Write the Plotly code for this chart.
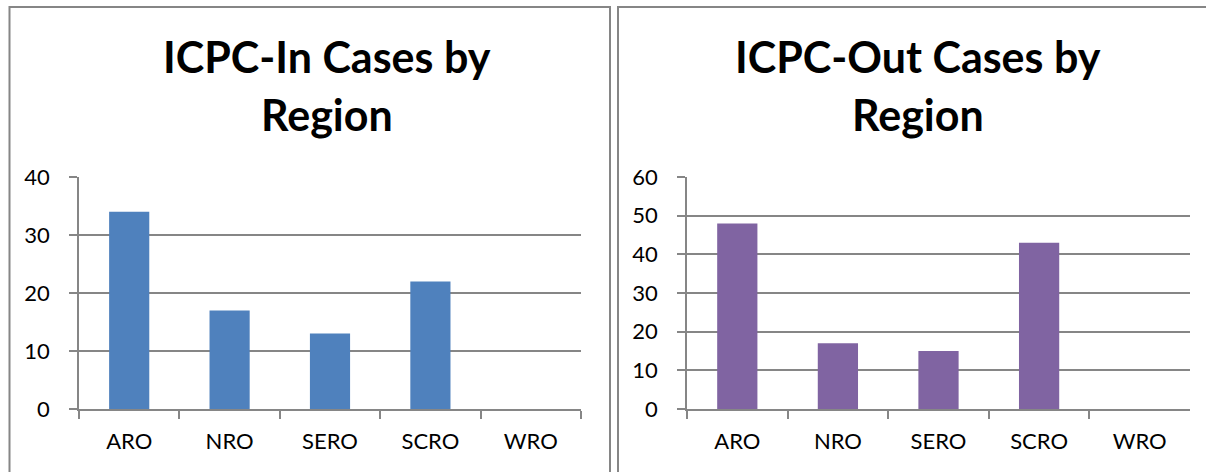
import plotly.graph_objects as go

W, H = 1206, 472

regions = ["ARO", "NRO", "SERO", "SCRO", "WRO"]
icpc_in = [34, 17, 13, 22, 0]
icpc_out = [48, 17, 15, 43, 0]
in_ticks = [0, 10, 20, 30, 40]
out_ticks = [0, 10, 20, 30, 40, 50, 60]
title_in = ["ICPC-In Cases by", "Region"]
title_out = ["ICPC-Out Cases by", "Region"]

BLUE = "#4F81BD"
PURPLE = "#8064A2"
GRID = "#868686"
FONT = "Lato"

def px(x):
    return x / W

def py(y):
    return (H - y) / H

fig = go.Figure()
fig.add_trace(go.Bar(x=regions, y=icpc_in, marker=dict(color=BLUE, line=dict(width=0)),
                     xaxis="x", yaxis="y", showlegend=False))
fig.add_trace(go.Bar(x=regions, y=icpc_out, marker=dict(color=PURPLE, line=dict(width=0)),
                     xaxis="x2", yaxis="y2", showlegend=False))

y0p, y1p = py(409), py(177)

xcommon = dict(type="category", showgrid=False, showline=True, linecolor=GRID, linewidth=1.7,
               ticks="outside", tickson="boundaries", ticklen=8, tickcolor=GRID, tickwidth=1.7,
               tickfont=dict(family=FONT, size=22, color="black"), ticklabelstandoff=12,
               automargin=False, fixedrange=True)
ycommon = dict(showgrid=True, gridcolor=GRID, gridwidth=1.7, showline=True, linecolor=GRID,
               linewidth=1.7, zeroline=False, ticks="outside", ticklen=8, tickcolor=GRID,
               tickwidth=1.7, tickfont=dict(family=FONT, size=22, color="black"),
               ticklabelstandoff=15, automargin=False, fixedrange=True)

fig.update_layout(
    template="none",
    width=W, height=H, margin=dict(l=0, r=0, t=0, b=0, pad=0),
    paper_bgcolor="white", plot_bgcolor="white", bargap=0.6,
    xaxis=dict(domain=[px(79), px(581)], anchor="y", **xcommon),
    yaxis=dict(domain=[y0p, y1p], anchor="x", range=[0, 40], tickvals=in_ticks, **ycommon),
    xaxis2=dict(domain=[px(687), px(1190)], anchor="y2", **xcommon),
    yaxis2=dict(domain=[y0p, y1p], anchor="x2", range=[0, 60], tickvals=out_ticks, **ycommon),
)

# chart borders
for x0, x1 in [(9.5, 610), (618, 1230)]:
    fig.add_shape(type="rect", xref="paper", yref="paper", x0=px(x0), x1=px(x1),
                  y0=py(500), y1=py(7), line=dict(color=GRID, width=2), layer="below")

# titles
for cx, lines in [(327, title_in), (918, title_out)]:
    for cy, txt in zip([56.5, 114.5], lines):
        fig.add_annotation(text="<b>" + txt + "</b>", xref="paper", yref="paper",
                           x=px(cx), y=py(cy), xanchor="center", yanchor="middle",
                           showarrow=False, font=dict(family=FONT, size=43, color="black"))

fig.write_html("out.html", config={"displayModeBar": False},
               post_script="document.body.style.margin='0';")
